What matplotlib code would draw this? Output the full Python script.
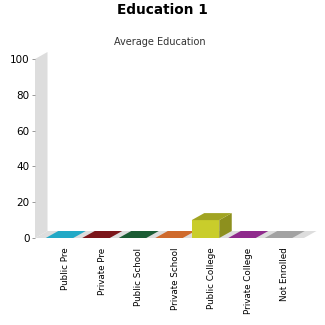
import matplotlib
matplotlib.use("Agg")
import matplotlib.pyplot as plt
from matplotlib.patches import Polygon
import numpy as np

categories = ["Public Pre", "Private Pre", "Public School", "Private School",
              "Public College", "Private College", "Not Enrolled"]
values = [0, 0, 0, 0, 10, 0, 0]
colors = ["#22a9c6", "#7b1519", "#1b5c34", "#cf6a2c", "#c9cd2b", "#8f2a8c", "#a2a2a2"]
yticks = [0, 20, 40, 60, 80, 100]

W, H = 325, 325
fig = plt.figure(figsize=(W / 100, H / 100), dpi=100)
fig.patch.set_facecolor("white")

left_px, right_px, bottom_px, top_px = 35, 304, 238, 59
ax = fig.add_axes([left_px / W, (H - bottom_px) / H,
                   (right_px - left_px) / W, (bottom_px - top_px) / H])
ax.set_facecolor("none")

px_per_cat = 36.5
x0_px = 59.5
xmin = -(x0_px - left_px) / px_per_cat
xmax = (right_px - x0_px) / px_per_cat
ax.set_xlim(xmin, xmax)
ax.set_ylim(0, 100)

px_per_val = (bottom_px - top_px) / 100.0
dx = 12.5 / px_per_cat
dy = 7 / px_per_val
bw = 27.5 / px_per_cat


def shade(c, f):
    rgb = np.array(matplotlib.colors.to_rgb(c))
    return tuple(np.clip(rgb * f, 0, 1))


# wall and floor
wall = Polygon([(xmin, 0), (xmin, 100), (xmin + dx, 100 + dy), (xmin + dx, dy)],
               closed=True, facecolor="#dddddd", edgecolor="none", clip_on=False, zorder=1)
ax.add_patch(wall)
floor = Polygon([(xmin, 0), (xmax, 0), (xmax + dx, dy), (xmin + dx, dy)],
                closed=True, facecolor="#dddddd", edgecolor="none", clip_on=False, zorder=1)
ax.add_patch(floor)

# bars
for i, (v, c) in enumerate(zip(values, colors)):
    xl, xr = i - bw / 2, i + bw / 2
    if v > 0:
        front = Polygon([(xl, 0), (xr, 0), (xr, v), (xl, v)], closed=True,
                        facecolor=c, edgecolor="none", clip_on=False, zorder=3)
        side = Polygon([(xr, 0), (xr + dx, dy), (xr + dx, v + dy), (xr, v)], closed=True,
                       facecolor=shade(c, 0.7), edgecolor="none", clip_on=False, zorder=3)
        ax.add_patch(side)
        ax.add_patch(front)
    top = Polygon([(xl, v), (xr, v), (xr + dx, v + dy), (xl + dx, v + dy)], closed=True,
                  facecolor=shade(c, 0.8) if v > 0 else c, edgecolor="none",
                  clip_on=False, zorder=3)
    ax.add_patch(top)

for s in ax.spines.values():
    s.set_visible(False)

ax.set_yticks(yticks)
ax.set_yticklabels([str(t) for t in yticks], fontsize=7.5, color="black")
ax.tick_params(axis="y", length=2, width=0.6, color="#888888", pad=2)

ax.set_xticks([i + dx / 2 for i in range(len(categories))])
ax.set_xticklabels(categories, rotation=90, fontsize=6.3, color="black")
ax.tick_params(axis="x", length=0, pad=7)

fig.text(162 / W, 1 - 10 / H, "Education 1", ha="center", va="center",
         fontsize=9.8, fontweight="bold", color="black")
fig.text(160 / W, 1 - 42 / H, "Average Education", ha="center", va="center",
         fontsize=7, color="#333333")

fig.savefig("out.png", dpi=100)
